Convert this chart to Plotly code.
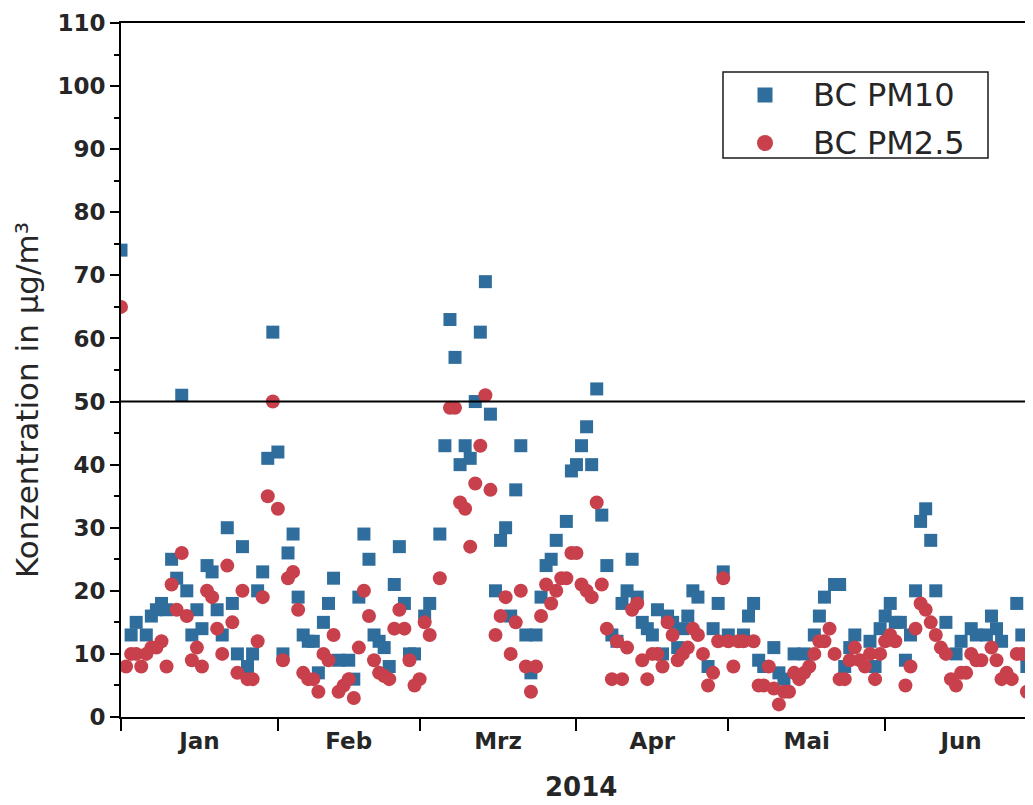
import pandas as pd
import plotly.graph_objects as go

# ---- data (day offset from 2014-01-01, value in µg/m³) ----
pm10_days = [0,2,3,5,6,7,8,9,10,
             11,12,13,14,15,16,17,18,19,20,21,22,23,24,25,26,27,28,29,30,31,32,33,34,35,36,37,38,39,40,41,42,43,
             45,46,47,48,49,50,51,52,53,54,55,56,57,58,
             60,61,
             63,64,65,66,67,68,69,70,71,72,73,74,75,76,77,78,79,80,81,82,83,84,85,86,
             88,89,90,91,92,93,94,95,96,97,98,99,100,101,102,103,104,105,106,107,108,109,110,111,112,113,114,
             116,117,118,119,120,
             123,124,125,126,127,
             129,130,131,
             133,135,137,138,139,
             141,142,143,144,145,
             148,149,150,151,152,153,154,155,156,157,158,159,160,161,
             163,165,166,168,169,
             171,172,173,174,
             177,178,179,180]
pm10_vals = [74,13,15,13,16,17,18,17,25,
             22,51,20,13,17,14,24,23,17,13,30,18,10,27,8,10,20,23,41,61,42,10,26,29,19,13,12,12,7,15,18,22,9,
             9,6,19,29,25,13,12,11,8,21,27,18,10,10,
             16,18,
             29,43,63,57,40,43,41,50,61,69,48,20,28,30,16,36,43,13,7,13,19,24,25,28,
             31,39,40,43,46,40,52,32,24,13,12,18,20,25,19,15,14,13,17,10,16,15,11,14,16,20,19,
             8,14,18,23,13,
             13,16,18,9,8,
             11,7,6,
             10,10,13,16,19,
             21,21,8,11,13,
             12,8,14,16,18,15,15,9,13,20,31,33,28,20,
             15,10,12,14,13,
             13,16,14,12,
             18,13,8,11]

pm25_days = [0,1,2,3,4,5,6,7,8,9,10,11,12,13,14,15,16,17,18,19,20,21,22,23,24,25,26,27,28,29,30,
             31,32,33,34,35,36,37,38,39,40,41,42,43,44,45,46,47,48,49,50,51,52,53,54,55,56,57,58,
             59,60,61,63,65,66,67,68,69,70,71,72,73,74,75,76,77,78,79,80,81,82,83,84,85,86,87,88,89,
             90,91,92,93,94,95,96,97,98,99,100,101,102,103,104,105,106,107,108,109,110,111,112,113,114,115,116,117,118,119,
             120,121,122,123,125,126,127,128,129,130,131,132,133,134,135,136,137,138,139,140,141,142,143,144,145,146,147,148,149,150,
             151,152,153,155,156,157,158,159,160,161,162,163,164,165,166,167,168,169,170,172,173,174,175,176,177,178,179,180]
pm25_vals = [65,8,10,10,8,10,11,11,12,8,21,17,26,16,9,11,8,20,19,14,10,24,15,7,20,6,6,12,19,35,50,
             33,9,22,23,17,7,6,6,4,10,9,13,4,5,6,3,11,20,16,9,7,6.5,6,14,17,14,9,5,
             6,15,13,22,49,49,34,33,27,37,43,51,36,13,16,19,10,15,20,8,4,8,16,21,18,20,22,22,26,
             26,21,20,19,34,21,14,6,12,6,11,17,18,9,6,10,10,8,15,13,9,10,11,14,13,10,5,7,12,22,
             12,8,12,12,12,5,5,8,4.5,2,4,4,7,6,7,8,10,12,12,14,10,6,6,9,11,9,8,10,6,10,
             12,13,12,5,8,14,18,17,15,13,11,10,6,5,7,7,10,9,9,11,9,6,7,6,10,10,4,5]

assert len(pm10_days) == len(pm10_vals)
assert len(pm25_days) == len(pm25_vals)

series_names = ["BC PM10", "BC PM2.5"]
month_starts = ["2014-01-01", "2014-02-01", "2014-03-01", "2014-04-01", "2014-05-01", "2014-06-01"]
month_mids = ["2014-01-16 12:00", "2014-02-15", "2014-03-16 12:00", "2014-04-16", "2014-05-16 12:00", "2014-06-16"]
month_labels = ["Jan", "Feb", "Mrz", "Apr", "Mai", "Jun"]
y_ticks = list(range(0, 111, 10))
limit_value = 50

start = pd.Timestamp("2014-01-01")
pm10_dates = start + pd.to_timedelta(pm10_days, unit="D")
pm25_dates = start + pd.to_timedelta(pm25_days, unit="D")

BLUE = "#2f6d9c"
RED = "#c8404b"
TXT = "#262626"

# page body has an 8px default margin: compensate so the plot area sits at
# x 121..1033, y 23..717 of the 1033x805 window
W, H = 1025, 797
ML, MT, MB = 113, 15, 88
plot_w = W - ML
plot_h = H - MT - MB


def px_x(x):  # window pixel -> paper x
    return (x - 8 - ML) / plot_w


def px_y(y):  # window pixel -> paper y
    return (H - MB + 8 - y) / plot_h


fig = go.Figure()
fig.add_trace(go.Scatter(
    x=pm10_dates, y=pm10_vals, mode="markers", name=series_names[0],
    marker=dict(symbol="square", size=13, color=BLUE, line=dict(width=0)),
))
fig.add_trace(go.Scatter(
    x=pm25_dates, y=pm25_vals, mode="markers", name=series_names[1],
    marker=dict(symbol="circle", size=14, color=RED, line=dict(width=0)),
))

fig.add_hline(y=limit_value, line=dict(color="black", width=2))

# legend box drawn by hand (to match the reference's proportions)
lx0, lx1, ly0, ly1 = px_x(723), px_x(988), px_y(158), px_y(72)
fig.add_shape(type="rect", xref="paper", yref="paper", x0=lx0, x1=lx1, y0=ly0, y1=ly1,
              line=dict(color="#1a1a1a", width=1.5), fillcolor="white", layer="above")
mx = px_x(765)
for i, (sym, col, sz) in enumerate([("rect", BLUE, 15), ("circle", RED, 16)]):
    my = px_y(95 + 48 * i)
    fig.add_shape(type=sym, xref="paper", yref="paper",
                  xsizemode="pixel", ysizemode="pixel", xanchor=mx, yanchor=my,
                  x0=-sz / 2, x1=sz / 2, y0=-sz / 2, y1=sz / 2,
                  fillcolor=col, line=dict(width=0), layer="above")
    fig.add_annotation(text=series_names[i], xref="paper", yref="paper",
                       x=px_x(811), y=my, xanchor="left", yanchor="middle", showarrow=False,
                       font=dict(family="DejaVu Sans", size=32, color=TXT))

fig.update_layout(
    width=W, height=H,
    margin=dict(l=ML, r=0, t=MT, b=MB),
    paper_bgcolor="white", plot_bgcolor="white",
    showlegend=False,
    xaxis=dict(
        type="date", automargin=False,
        range=["2014-01-01", "2014-06-30 05:00"],
        tickmode="array", tickvals=month_mids, ticktext=month_labels,
        ticks="", showgrid=False, zeroline=False,
        showline=True, linecolor="black", linewidth=2, mirror=True,
        tickfont=dict(family="DejaVu Sans", size=23, color=TXT, weight="bold"),
        ticklabelstandoff=2,
        minor=dict(tickmode="array", tickvals=month_starts, ticks="outside",
                   ticklen=12, tickwidth=2, tickcolor="black", showgrid=False),
    ),
    yaxis=dict(
        range=[0, 110], automargin=False, tickmode="array", tickvals=y_ticks,
        ticks="outside", ticklen=9, tickwidth=2, tickcolor="black",
        showgrid=False, zeroline=False,
        showline=True, linecolor="black", linewidth=2,
        tickfont=dict(family="DejaVu Sans", size=23, color=TXT, weight="bold"),
        minor=dict(dtick=5, ticks="outside", ticklen=5, tickwidth=2, tickcolor="black", showgrid=False),
    ),
)
fig.add_annotation(text="Konzentration in µg/m³", textangle=-90,
                   xref="paper", yref="paper", x=px_x(27), y=px_y(400),
                   xanchor="center", yanchor="middle", showarrow=False,
                   font=dict(family="DejaVu Sans", size=31, color=TXT))
fig.add_annotation(text="2014", xref="paper", yref="paper", x=px_x(581), y=px_y(787),
                   xanchor="center", yanchor="middle", showarrow=False,
                   font=dict(family="DejaVu Sans", size=26, color=TXT, weight="bold"))

fig.write_html("out.html")
